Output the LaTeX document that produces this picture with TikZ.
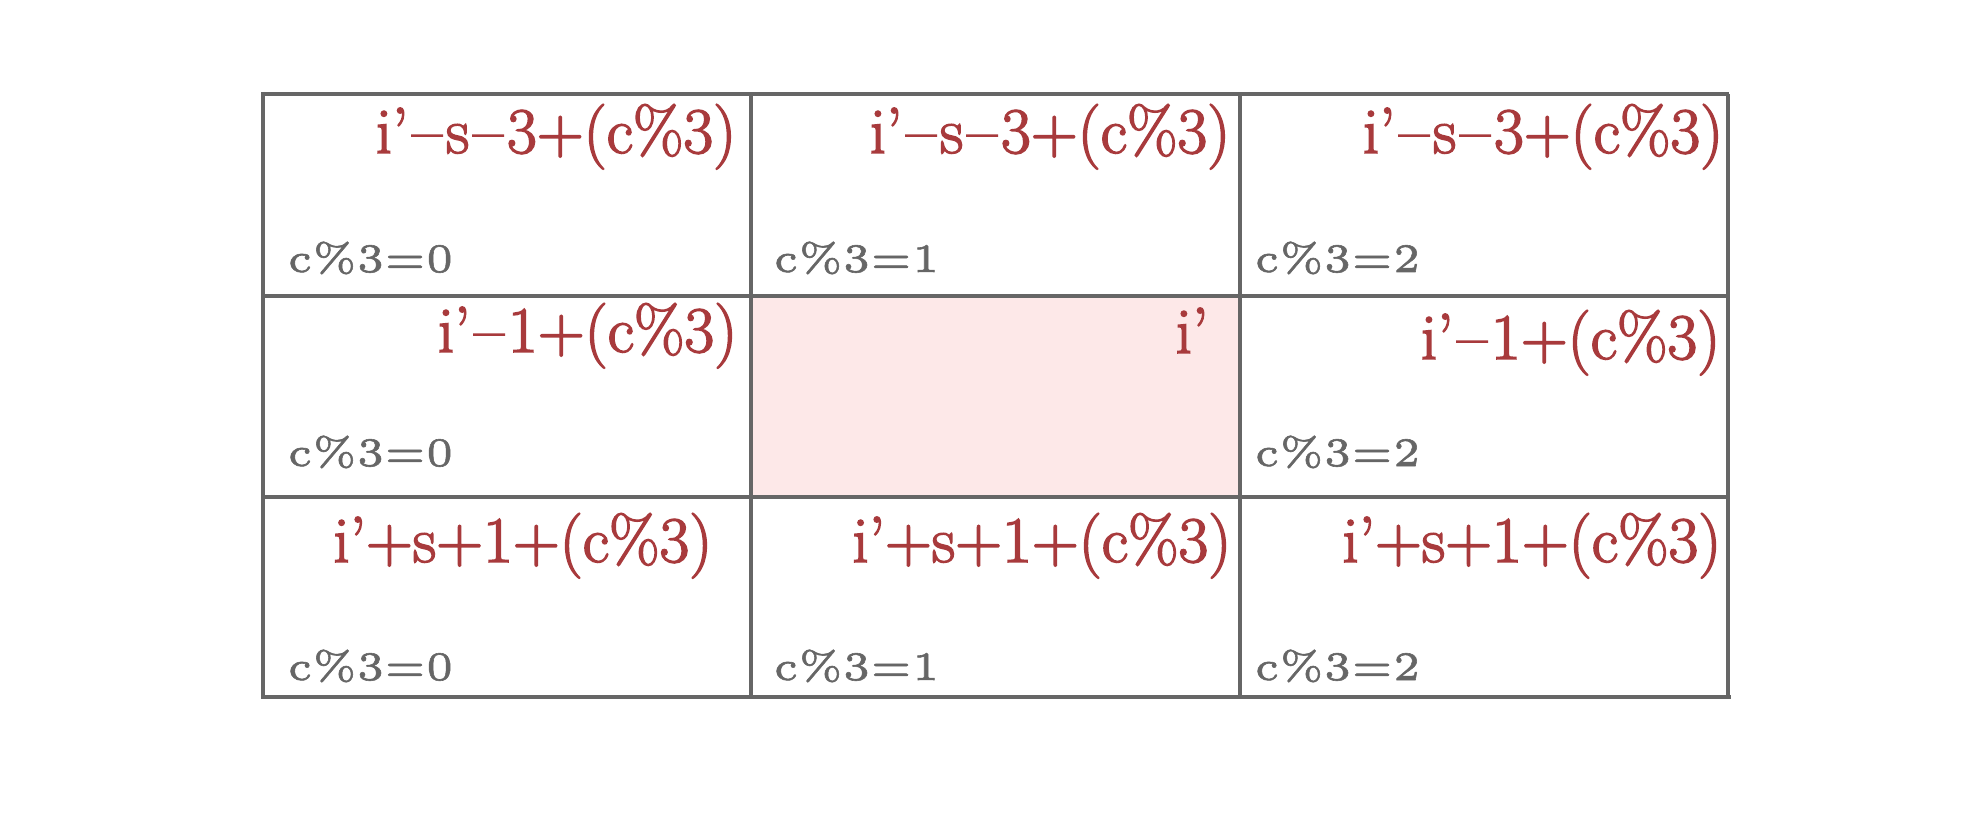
\documentclass[tikz,border=0pt]{standalone}
\usetikzlibrary{positioning}
\definecolor{idxred}{HTML}{A83A3C}
\definecolor{gridgray}{HTML}{666666}
\definecolor{cellpink}{HTML}{FDE8E8}
\font\idxfnt="[lmroman17-regular.otf]:mapping=tex-text;embolden=2.3" at 18.5pt
\font\modfnt="[lmroman5-regular.otf]:mapping=tex-text;embolden=1.4" at 11.5pt
\newcommand{\dsh}{\kern.06em--\kern.06em}
\newcommand{\modlbl}[1]{c\%3=#1}

\begin{document}
\begin{tikzpicture}[x=0.01cm, y=-0.01cm,
		idx/.style={anchor=base east, inner sep=0pt, text=idxred, font=\idxfnt},
		mod/.style={anchor=base west, inner sep=0pt, text=gridgray, font=\modfnt},
		gridline/.style={draw=gridgray, line width=1pt}]
	\useasboundingbox (0,0) rectangle (1983,819);
	% centre cell
	\fill[cellpink] (752,295) rectangle (1239,497);
	% grid
	\draw[gridline] (263,94) -- (1729,94) (263,296) -- (1729,296)
		(263,497) -- (1729,497) (263,697) -- (1731,697);
	\draw[gridline] (263,92) -- (263,699) (751,94) -- (751,697)
		(1240,94) -- (1240,697) (1728,94) -- (1728,697);
	% index labels
	\node[idx] (r11) at (737,153) {i'\dsh s\dsh 3+(c\%3)};
	\node[idx] (r12) at (1231,153) {i'\dsh s\dsh 3+(c\%3)};
	\node[idx] (r13) at (1724,153) {i'\dsh s\dsh 3+(c\%3)};
	\node[idx] (r21) at (738,352) {i'\dsh 1+(c\%3)};
	\node[idx] (r22) at (1209,353) {i'};
	\node[idx] (r23) at (1721,359) {i'\dsh 1+(c\%3)};
	\node[idx] (r31) at (713,562) {i'+s+1+(c\%3)};
	\node[idx] (r32) at (1232,562) {i'+s+1+(c\%3)};
	\node[idx] (r33) at (1722,562) {i'+s+1+(c\%3)};
	% c%3 labels
	\node[mod] (m11) at (287,272) {\modlbl{0}};
	\node[mod] (m12) at (773,272) {\modlbl{1}};
	\node[mod] (m13) at (1254,272) {\modlbl{2}};
	\node[mod] (m21) at (287,466) {\modlbl{0}};
	\node[mod] (m23) at (1254,466) {\modlbl{2}};
	\node[mod] (m31) at (287,680) {\modlbl{0}};
	\node[mod] (m32) at (773,680) {\modlbl{1}};
	\node[mod] (m33) at (1254,680) {\modlbl{2}};
\end{tikzpicture}
\end{document}
